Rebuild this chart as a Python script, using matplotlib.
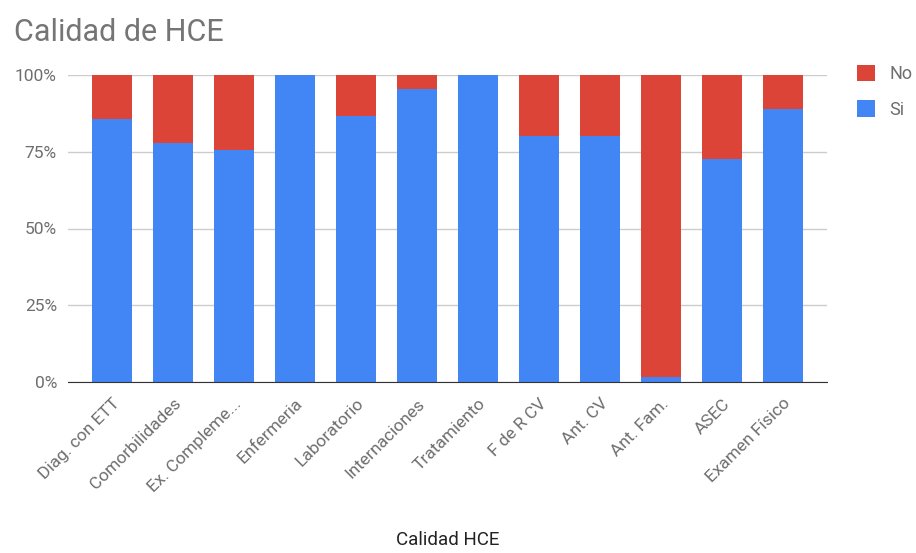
import numpy as np
import matplotlib.pyplot as plt

plt.rcParams['font.family'] = ['Roboto', 'DejaVu Sans']

categorias = ['Diag. con ETT', 'Comorbilidades', 'Ex. Compleme...', 'Enfermeria',
              'Laboratorio', 'Internaciones', 'Tratamiento', 'F de R CV',
              'Ant. CV', 'Ant. Fam.', 'ASEC', 'Examen Físico']
si = [85.7, 77.9, 75.7, 100, 86.6, 95.3, 100, 80.0, 80.0, 1.6, 72.6, 88.8]
no = [100 - v for v in si]

W, H = 916, 553
fig = plt.figure(figsize=(W / 100, H / 100), dpi=100)
ax = fig.add_axes([68 / W, 1 - 382 / H, (827 - 68) / W, (382 - 75) / H])

x = np.arange(len(categorias))
ax.bar(x, si, 0.654, color='#4285F4', label='Si', zorder=2)
ax.bar(x, no, 0.654, bottom=si, color='#DB4437', label='No', zorder=2)

ax.set_xlim(-0.72, len(categorias) - 1 + 0.72)
ax.set_ylim(0, 100)
ax.set_yticks([0, 25, 50, 75, 100])
ax.set_yticklabels(['0%', '25%', '50%', '75%', '100%'], color='#6e6e6e', fontsize=12.5)
ax.yaxis.grid(True, color='#cccccc', linewidth=1, zorder=0)
ax.set_xticks(x)
ax.set_xticklabels(categorias, rotation=45, ha='right', rotation_mode='anchor',
                   color='#6e6e6e', fontsize=12.5)
ax.tick_params(axis='y', length=0, pad=8)
ax.tick_params(axis='x', length=0, pad=10)
for s in ['top', 'right', 'left']:
    ax.spines[s].set_visible(False)
ax.spines['bottom'].set_color('#333333')

ax.set_xlabel('Calidad HCE', color='#222222', fontsize=13.5, labelpad=26)
fig.text(14 / W, 1 - 41 / H, 'Calidad de HCE', fontsize=22, color='#757575')

h, l = ax.get_legend_handles_labels()
fig.legend(h[::-1], l[::-1], loc='upper left', bbox_to_anchor=(857 / W, 1 - 65 / H),
           frameon=False, borderpad=0, borderaxespad=0,
           handlelength=1.0, handleheight=1.0, labelspacing=0.95, handletextpad=0.8,
           fontsize=13, labelcolor='#6e6e6e')

fig.savefig('out.png')
